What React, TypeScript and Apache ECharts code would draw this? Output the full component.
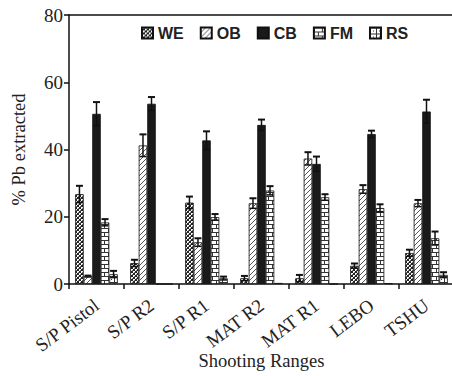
import React, { useEffect, useRef } from "react";
import * as echarts from "echarts";

const categories = ["S/P Pistol", "S/P R2", "S/P R1", "MAT R2", "MAT R1", "LEBO", "TSHU"];
const seriesNames = ["WE", "OB", "CB", "FM", "RS"];
const WE = [26.7, 6.2, 24.2, 1.7, 1.7, 5.4, 9.2];
const WE_err = [2.5, 1.0, 1.8, 0.7, 1.0, 0.7, 1.0];
const OB = [2.3, 41.2, 12.4, 24.0, 37.3, 28.2, 24.0];
const OB_err = [0.2, 3.3, 1.2, 1.5, 1.9, 1.2, 1.0];
const CB = [50.6, 53.6, 42.7, 47.3, 35.7, 44.6, 51.3];
const CB_err = [3.5, 2.0, 2.7, 1.6, 2.2, 1.0, 3.5];
const FM = [18.3, 0, 19.9, 27.8, 25.8, 22.6, 13.6];
const FM_err = [1.0, 0, 0.9, 1.3, 0.9, 1.1, 2.0];
const RS = [2.9, 0, 1.7, 0.3, 0, 0.2, 2.7];
const RS_err = [1.0, 0, 0.5, 0, 0, 0, 0.8];
const yTicks = [0, 20, 40, 60, 80];

const SERIF = "'Liberation Serif', 'Times New Roman', serif";
const SANS = "'Liberation Sans', Arial, sans-serif";

function tile(w: number, h: number, draw: (c: CanvasRenderingContext2D) => void) {
  const cv = document.createElement("canvas");
  cv.width = w;
  cv.height = h;
  const c = cv.getContext("2d")!;
  c.fillStyle = "#ffffff";
  c.fillRect(0, 0, w, h);
  draw(c);
  return cv;
}

function makePatterns() {
  const we = tile(4, 4, (c) => {
    c.fillStyle = "#222";
    for (let i = 0; i < 4; i++) {
      c.fillRect(i, i, 1, 1);
      c.fillRect(3 - i, i, 1, 1);
    }
    c.fillStyle = "#777";
    c.fillRect(2, 0, 1, 1);
    c.fillRect(0, 2, 1, 1);
  });
  const ob = tile(5, 5, (c) => {
    c.fillStyle = "#555";
    for (let i = 0; i < 5; i++) c.fillRect(i, 4 - i, 1, 1);
  });
  const fm = tile(8, 8, (c) => {
    c.fillStyle = "#333";
    c.fillRect(0, 0, 8, 1);
    c.fillRect(0, 4, 8, 1);
    c.fillRect(0, 0, 1, 4);
    c.fillRect(4, 4, 1, 4);
  });
  const rs = tile(6, 6, (c) => {
    c.fillStyle = "#333";
    c.fillRect(0, 0, 6, 1);
    c.fillRect(0, 0, 1, 6);
    c.fillRect(3, 3, 1, 1);
  });
  return [
    { image: we, repeat: "repeat" },
    { image: ob, repeat: "repeat" },
    "#1a1a1a",
    { image: fm, repeat: "repeat" },
    { image: rs, repeat: "repeat" },
  ];
}

export default function App() {
  const ref = useRef<HTMLDivElement>(null);
  useEffect(() => {
    if (!ref.current) return;
    const chart = echarts.init(ref.current, undefined, { renderer: "svg" });
    const values = [WE, OB, CB, FM, RS];
    const errs = [WE_err, OB_err, CB_err, FM_err, RS_err];
    const fills = makePatterns();
    const barFrac = 0.155;

    const barSeries = seriesNames.map((name, k) => ({
      name,
      type: "bar",
      data: values[k],
      barWidth: "15.5%",
      barGap: "0%",
      itemStyle: { color: fills[k] as any, borderColor: "#111", borderWidth: 0.8 },
      z: 2,
    }));

    const errSeries = seriesNames.map((name, k) => ({
      name: name + "_err",
      type: "custom",
      z: 5,
      data: values[k].map((v, i) => [i, v, errs[k][i]]),
      renderItem: (params: any, api: any) => {
        const ci = api.value(0);
        const v = api.value(1);
        const e = api.value(2);
        if (!e) return null;
        const catW = api.size([1, 0])[0];
        const bw = catW * barFrac;
        const off = (k - 2) * bw;
        const top = api.coord([ci, v + e]);
        const bot = api.coord([ci, Math.max(v - e, 0)]);
        const x = top[0] + off;
        const cap = 3.5;
        const st = { stroke: "#111", lineWidth: 1.5 };
        return {
          type: "group",
          children: [
            { type: "line", shape: { x1: x, y1: top[1], x2: x, y2: bot[1] }, style: st },
            { type: "line", shape: { x1: x - cap, y1: top[1], x2: x + cap, y2: top[1] }, style: { stroke: "#111", lineWidth: 2 } },
            { type: "line", shape: { x1: x - cap, y1: bot[1], x2: x + cap, y2: bot[1] }, style: st },
          ],
        };
      },
    }));

    chart.setOption({
      animation: false,
      backgroundColor: "#ffffff",
      grid: { left: 69, right: -2, top: 15, bottom: 92, containLabel: false, outerBoundsMode: "none" },
      legend: {
        data: seriesNames,
        left: 136,
        top: 20,
        itemWidth: 11,
        itemHeight: 11,
        itemGap: 16,
        icon: "rect",
        textStyle: { fontFamily: SANS, fontWeight: "bold", fontSize: 16, color: "#222" },
      },
      xAxis: [
        {
          type: "category",
          data: categories,
          boundaryGap: true,
          name: "Shooting Ranges",
          nameLocation: "middle",
          nameGap: 67,
          nameMoveOverlap: false,
          nameTextStyle: { fontFamily: SERIF, fontSize: 18.5, color: "#222" },
          axisLine: { show: true, lineStyle: { color: "#111", width: 1.5 } },
          axisTick: { show: true, alignWithLabel: false, length: 5, lineStyle: { color: "#111", width: 1.5 } },
          axisLabel: {
            rotate: 37,
            interval: 0,
            margin: 19,
            fontFamily: SERIF,
            fontSize: 19,
            color: "#222",
          },
        },
        {
          type: "category",
          data: categories,
          position: "top",
          axisLine: { show: true, lineStyle: { color: "#111", width: 1.5 } },
          axisTick: { show: false },
          axisLabel: { show: false },
        },
      ],
      yAxis: {
        type: "value",
        min: 0,
        max: 80,
        interval: 20,
        name: "% Pb extracted",
        nameLocation: "middle",
        nameGap: 41,
        nameMoveOverlap: false,
        nameRotate: 90,
        nameTextStyle: { fontFamily: SERIF, fontSize: 18.5, color: "#222" },
        axisLine: { show: true, lineStyle: { color: "#111", width: 1.5 } },
        axisTick: { show: true, length: 5, lineStyle: { color: "#111", width: 1.5 } },
        axisLabel: {
          margin: 6,
          fontFamily: SERIF,
          fontSize: 19,
          color: "#222",
          formatter: (v: number) => (yTicks.includes(v) ? String(v) : ""),
        },
        splitLine: { show: false },
      },
      series: [...barSeries, ...errSeries],
    } as any);
    return () => chart.dispose();
  }, []);
  return <div ref={ref} style={{ position: "fixed", left: 0, top: 0, width: 452, height: 376 }} />;
}
